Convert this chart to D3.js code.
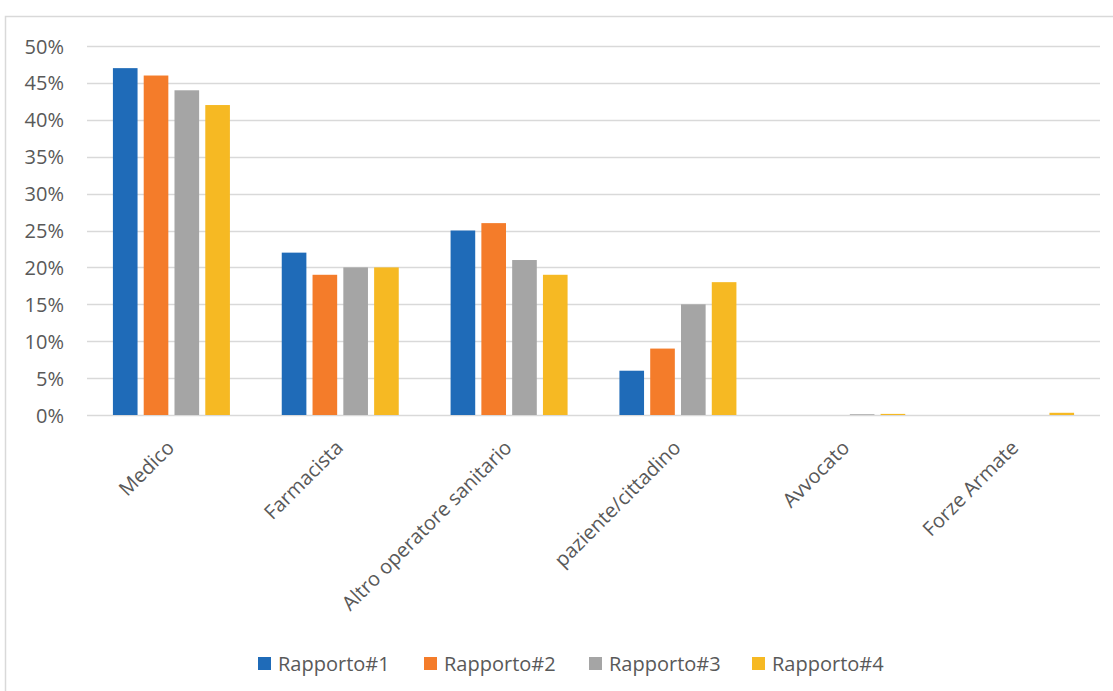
<!DOCTYPE html>
<html>
<head>
<meta charset="utf-8">
<script src="https://cdn.jsdelivr.net/npm/d3@7"></script>
<style>
  body { margin: 0; background: #fff; }
  svg { display: block; }
  svg text { font-family: "Open Sans", "Noto Sans", sans-serif; }
</style>
</head>
<body>
<svg id="chart" width="1113" height="691"></svg>
<script>
// Categories and series (percentages)
const categories = ["Medico", "Farmacista", "Altro operatore sanitario", "paziente/cittadino", "Avvocato", "Forze Armate"];
const seriesNames = ["Rapporto#1", "Rapporto#2", "Rapporto#3", "Rapporto#4"];
const rapporto1 = [47, 22, 25, 6, 0, 0];
const rapporto2 = [46, 19, 26, 9, 0, 0];
const rapporto3 = [44, 20, 21, 15, 0.1, 0];
const rapporto4 = [42, 20, 19, 18, 0.15, 0.3];
const seriesColors = ["#1f6bb8", "#f47c2a", "#a5a5a5", "#f6b923"];
const yTicks = [0, 5, 10, 15, 20, 25, 30, 35, 40, 45, 50];

const seriesValues = [rapporto1, rapporto2, rapporto3, rapporto4];
const FONT = '"Open Sans", "Noto Sans", sans-serif';

const svg = d3.select("#chart");
const margin = { left: 87, right: 13, top: 46, bottom: 276 };
const W = 1113, H = 691;

// outer chart frame
svg.append("rect")
  .attr("x", 5.5).attr("y", 16.5)
  .attr("width", W).attr("height", H)
  .attr("fill", "none").attr("stroke", "#d9d9d9").attr("stroke-width", 1.5);

const x0 = d3.scaleBand()
  .domain(categories)
  .range([margin.left, W - margin.right])
  .paddingInner(0).paddingOuter(0);

const y = d3.scaleLinear().domain([0, 50]).range([415, 46]);

// group inner layout: 4 bars, small gap between
const groupWidth = 117;
const x1 = d3.scaleBand()
  .domain(seriesNames)
  .range([0, groupWidth])
  .paddingInner(0.2);

// gridlines
svg.append("g")
  .selectAll("line")
  .data(yTicks)
  .join("line")
  .attr("x1", margin.left).attr("x2", W - margin.right)
  .attr("y1", d => Math.round(y(d)) + 0.5).attr("y2", d => Math.round(y(d)) + 0.5)
  .attr("stroke", "#d9d9d9").attr("stroke-width", 1.5);

// y axis labels
const yAxis = d3.axisLeft(y).tickValues(yTicks).tickFormat(d => d + "%").tickSize(0).tickPadding(0);
const yg = svg.append("g").attr("transform", `translate(${64},0)`).call(yAxis)
  .attr("font-family", null).attr("font-size", null);
yg.select(".domain").remove();
yg.selectAll("text")
  .attr("fill", "#595959")
  .style("font-family", FONT)
  .style("font-size", "20px")
  .attr("dy", "0.35em");

// bars
const groups = svg.append("g")
  .selectAll("g")
  .data(categories)
  .join("g")
  .attr("transform", d => `translate(${x0(d) + (x0.bandwidth() - groupWidth) / 2},0)`);

groups.selectAll("rect")
  .data((d, i) => seriesNames.map((s, j) => ({ s, j, v: seriesValues[j][i] })))
  .join("rect")
  .attr("x", d => x1(d.s))
  .attr("width", x1.bandwidth())
  .attr("y", d => y(d.v))
  .attr("height", d => y(0) - y(d.v))
  .attr("fill", d => seriesColors[d.j]);

// category labels, rotated
const xAxis = d3.axisBottom(x0).tickSize(0).tickPadding(0);
const xg = svg.append("g").attr("transform", `translate(0,${415})`).call(xAxis)
  .attr("font-family", null).attr("font-size", null);
xg.select(".domain").remove();
xg.selectAll("text")
  .attr("fill", "#595959")
  .style("font-family", FONT)
  .style("font-size", "20px")
  .attr("text-anchor", "end")
  .attr("dy", "0")
  .attr("y", 0)
  .attr("transform", "translate(4,34) rotate(-45)");

// legend
const legendX = [258, 424, 589, 752];
const legend = svg.append("g")
  .selectAll("g")
  .data(seriesNames)
  .join("g")
  .attr("transform", (d, i) => `translate(${legendX[i]},657)`);
legend.append("rect")
  .attr("width", 13).attr("height", 13)
  .attr("fill", (d, i) => seriesColors[i]);
legend.append("text")
  .attr("x", 20).attr("y", 6.5)
  .attr("dy", "0.35em")
  .attr("fill", "#595959")
  .style("font-family", FONT)
  .style("font-size", "20px")
  .text(d => d);
</script>
</body>
</html>
